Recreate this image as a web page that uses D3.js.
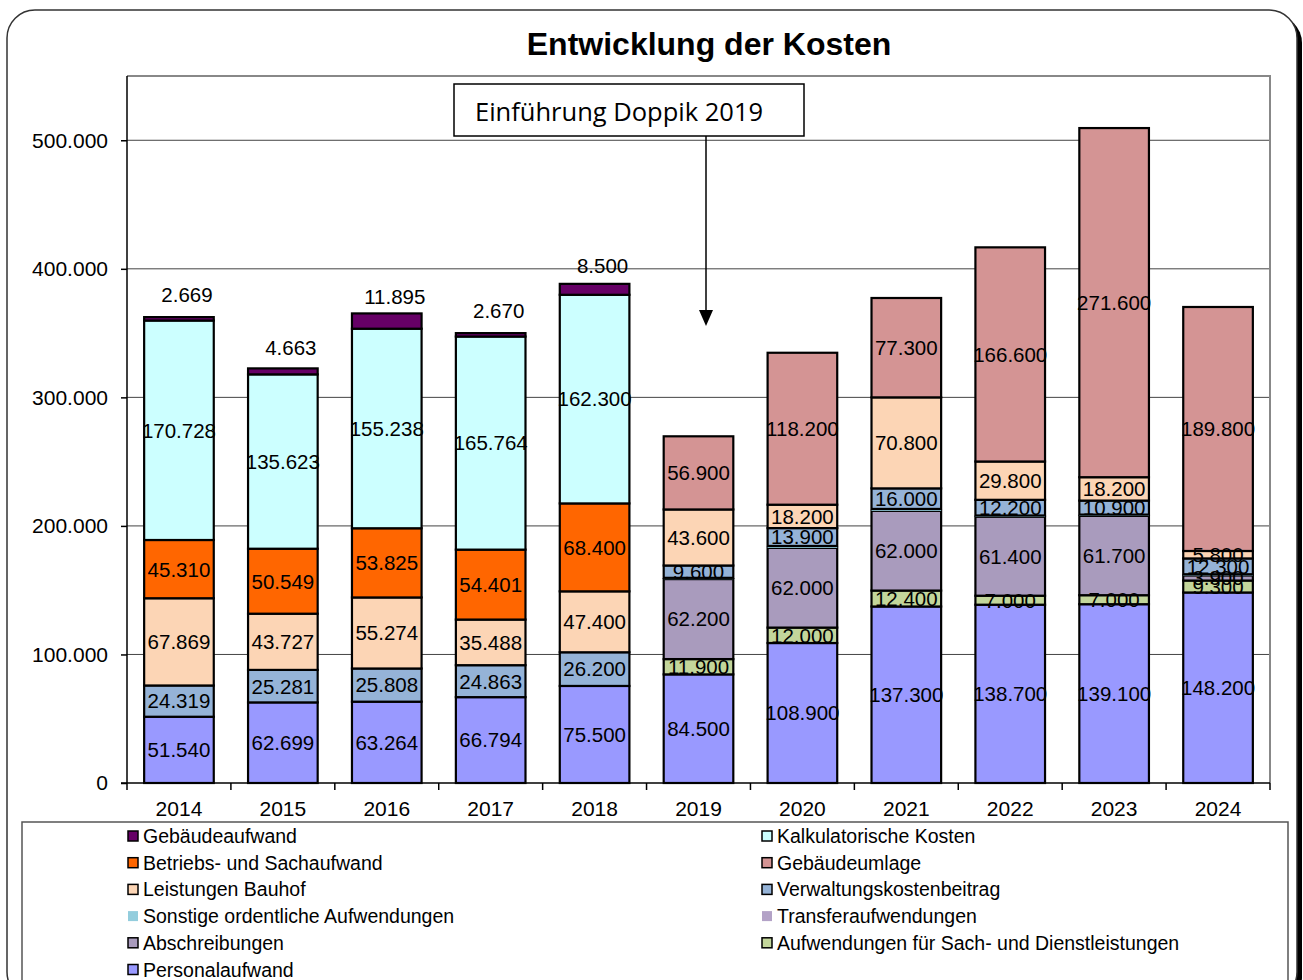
<!DOCTYPE html>
<meta charset="utf-8">
<title>Entwicklung der Kosten</title>
<style>
  body { margin: 0; background: #fff; }
  svg text { font-family: "Liberation Sans", Arial, sans-serif; }
</style>
<svg width="1303" height="980"></svg>
<script src="https://d3js.org/d3.v7.min.js"></script>
<script>

  var years = ["2014", "2015", "2016", "2017", "2018", "2019", "2020", "2021", "2022", "2023", "2024"];

  // one array per cost type, bottom of the stack first
  var personal       = [51540, 62699, 63264, 66794, 75500, 84500, 108900, 137300, 138700, 139100, 148200];
  var sachDienst     = [0, 0, 0, 0, 0, 11900, 12000, 12400, 7000, 7000, 9300];
  var abschreibungen = [0, 0, 0, 0, 0, 62200, 62000, 62000, 61400, 61700, 3900];
  var transfer       = [0, 0, 0, 0, 0, 0, 0, 0, 0, 0, 0];
  var sonstige       = [0, 0, 0, 0, 0, 1000, 1500, 1500, 1000, 1000, 1000];
  var verwaltung     = [24319, 25281, 25808, 24863, 26200, 9600, 13900, 16000, 12200, 10900, 12300];
  var bauhof         = [67869, 43727, 55274, 35488, 47400, 43600, 18200, 70800, 29800, 18200, 5800];
  var umlage         = [0, 0, 0, 0, 0, 56900, 118200, 77300, 166600, 271600, 189800];
  var betriebs       = [45310, 50549, 53825, 54401, 68400, 0, 0, 0, 0, 0, 0];
  var kalkulatorisch = [170728, 135623, 155238, 165764, 162300, 0, 0, 0, 0, 0, 0];
  var gebaeude       = [2669, 4663, 11895, 2670, 8500, 0, 0, 0, 0, 0, 0];

  var yTicks = [0, 100000, 200000, 300000, 400000, 500000];

  var series = [
    {key: "Personalaufwand", values: personal, color: "#9999ff", border: true},
    {key: "Aufwendungen für Sach- und Dienstleistungen", values: sachDienst, color: "#c3d69b", border: true},
    {key: "Abschreibungen", values: abschreibungen, color: "#a99bbd", border: true},
    {key: "Transferaufwendungen", values: transfer, color: "#b3a2c7", border: false},
    {key: "Sonstige ordentliche Aufwendungen", values: sonstige, color: "#93cddd", border: false},
    {key: "Verwaltungskostenbeitrag", values: verwaltung, color: "#95b3d7", border: true},
    {key: "Leistungen Bauhof", values: bauhof, color: "#fcd5b5", border: true},
    {key: "Gebäudeumlage", values: umlage, color: "#d49494", border: true},
    {key: "Betriebs- und Sachaufwand", values: betriebs, color: "#ff6600", border: true},
    {key: "Kalkulatorische Kosten", values: kalkulatorisch, color: "#ccffff", border: true},
    {key: "Gebäudeaufwand", values: gebaeude, color: "#660066", border: true}
  ];

  var table = years.map(function(y, i) {
    var row = {year: y};
    series.forEach(function(s) { row[s.key] = s.values[i]; });
    return row;
  });

  var de = d3.formatLocale({decimal: ",", thousands: ".", grouping: [3], currency: ["", " €"]});
  var fmt = de.format(",.0f");

  var svg = d3.select("svg");

  // outer frame with shadow
  svg.append("rect").attr("x", 12).attr("y", 15).attr("width", 1290).attr("height", 990)
      .attr("rx", 28).attr("fill", "#000");
  svg.append("rect").attr("x", 7).attr("y", 10).attr("width", 1290).attr("height", 990)
      .attr("rx", 28).attr("fill", "#fff").attr("stroke", "#333").attr("stroke-width", 1.5);

  var pLeft = 127, pRight = 1270, pTop = 76, pBottom = 783;

  var x = d3.scaleBand().domain(years).range([pLeft, pRight])
      .paddingInner(0.33).paddingOuter(0.165);
  var y = d3.scaleLinear().domain([0, 550000]).range([pBottom, pTop]);

  // title
  svg.append("text").attr("x", 709).attr("y", 55).attr("text-anchor", "middle")
      .style("font-size", "32px").style("font-weight", "bold").text("Entwicklung der Kosten");

  // grid
  svg.append("g").selectAll("line").data(yTicks.slice(1)).enter().append("line")
      .attr("x1", pLeft).attr("x2", pRight)
      .attr("y1", function(d) { return y(d); }).attr("y2", function(d) { return y(d); })
      .attr("stroke", "#444").attr("stroke-width", 1);

  // plot border top / right
  svg.append("path").attr("d", "M" + pLeft + "," + pTop + "H" + pRight + "V" + pBottom)
      .attr("fill", "none").attr("stroke", "#888").attr("stroke-width", 2);

  var stack = d3.stack().keys(series.map(function(s) { return s.key; }));
  var layers = stack(table);

  var g = svg.append("g");
  layers.forEach(function(layer, li) {
    var s = series[li];
    g.selectAll(null).data(layer.filter(function(d) { return d[1] - d[0] > 0; }))
      .enter().append("rect")
      .attr("x", function(d) { return x(d.data.year); })
      .attr("width", x.bandwidth())
      .attr("y", function(d) { return y(d[1]); })
      .attr("height", function(d) { return y(d[0]) - y(d[1]); })
      .attr("fill", s.color)
      .attr("stroke", s.border ? "#000" : "none")
      .attr("stroke-width", 2.2);
  });

  // value labels
  var lab = svg.append("g").style("font-size", "20.5px");
  layers.forEach(function(layer, li) {
    var s = series[li];
    if (!s.border) return;
    var above = s.key === "Gebäudeaufwand";
    lab.selectAll(null).data(layer.filter(function(d) { return d[1] - d[0] > 0; }))
      .enter().append("text")
      .attr("x", function(d) { return x(d.data.year) + x.bandwidth() / 2 + (above ? 8 : 0); })
      .attr("y", function(d) { return (y(d[0]) + y(d[1])) / 2 - (above ? 24 : 0); })
      .attr("dy", "0.36em")
      .attr("text-anchor", "middle")
      .text(function(d) { return fmt(d[1] - d[0]); });
  });

  // y axis
  var yAxis = svg.append("g").attr("transform", "translate(" + pLeft + ",0)")
      .call(d3.axisLeft(y).tickValues(yTicks).tickSize(6).tickPadding(13)
        .tickFormat(function(d) { return d === 0 ? "0" : fmt(d); }));
  yAxis.select(".domain").attr("d", "M0," + pTop + "V" + pBottom).attr("stroke", "#000").attr("stroke-width", 1.5);
  yAxis.selectAll("text").style("font-size", "21px").attr("font-family", null);
  yAxis.selectAll("line").attr("stroke", "#000").attr("stroke-width", 1.5);

  // x axis
  var xAxis = svg.append("g").attr("transform", "translate(0," + pBottom + ")");
  xAxis.append("line").attr("x1", pLeft - 6).attr("x2", pRight).attr("stroke", "#000").attr("stroke-width", 1.5);
  xAxis.selectAll(".tk").data(d3.range(years.length + 1)).enter().append("line")
      .attr("x1", function(i) { return pLeft + i * x.step(); })
      .attr("x2", function(i) { return pLeft + i * x.step(); })
      .attr("y1", 0).attr("y2", 7).attr("stroke", "#000").attr("stroke-width", 1.5);
  xAxis.selectAll("text").data(years).enter().append("text")
      .attr("x", function(d) { return x(d) + x.bandwidth() / 2; })
      .attr("y", 33).attr("text-anchor", "middle").style("font-size", "21px")
      .text(function(d) { return d; });

  // annotation
  svg.append("line").attr("x1", 706).attr("x2", 706).attr("y1", 136).attr("y2", 312)
      .attr("stroke", "#000").attr("stroke-width", 1.5);
  svg.append("path").attr("d", "M699,310L713,310L706,326Z").attr("fill", "#000");
  svg.append("rect").attr("x", 454).attr("y", 84).attr("width", 350).attr("height", 52)
      .attr("fill", "#fff").attr("stroke", "#000").attr("stroke-width", 1.5);
  svg.append("text").attr("x", 475).attr("y", 121)
      .style("font-family", "'Open Sans', 'Noto Sans', sans-serif").style("font-size", "25.5px")
      .text("Einführung Doppik 2019");

  // legend
  svg.append("path").attr("d", "M22,1000V822H1288V1000")
      .attr("fill", "none").attr("stroke", "#555").attr("stroke-width", 1.5);
  var legendOrder = series.slice().reverse();
  var leg = svg.append("g").selectAll("g").data(legendOrder).enter().append("g")
      .attr("transform", function(d, i) {
        var col = i % 2, row = Math.floor(i / 2);
        return "translate(" + (col ? 762 : 128) + "," + (836 + row * 26.7) + ")";
      });
  leg.append("rect").attr("x", 0).attr("y", -5).attr("width", 10).attr("height", 10)
      .attr("fill", function(d) { return d.color; })
      .attr("stroke", function(d) { return d.border ? "#000" : "none"; })
      .attr("stroke-width", 1.5);
  leg.append("text").attr("x", 15).attr("y", 0).attr("dy", "0.36em")
      .style("font-size", "19.5px").text(function(d) { return d.key; });

</script>
